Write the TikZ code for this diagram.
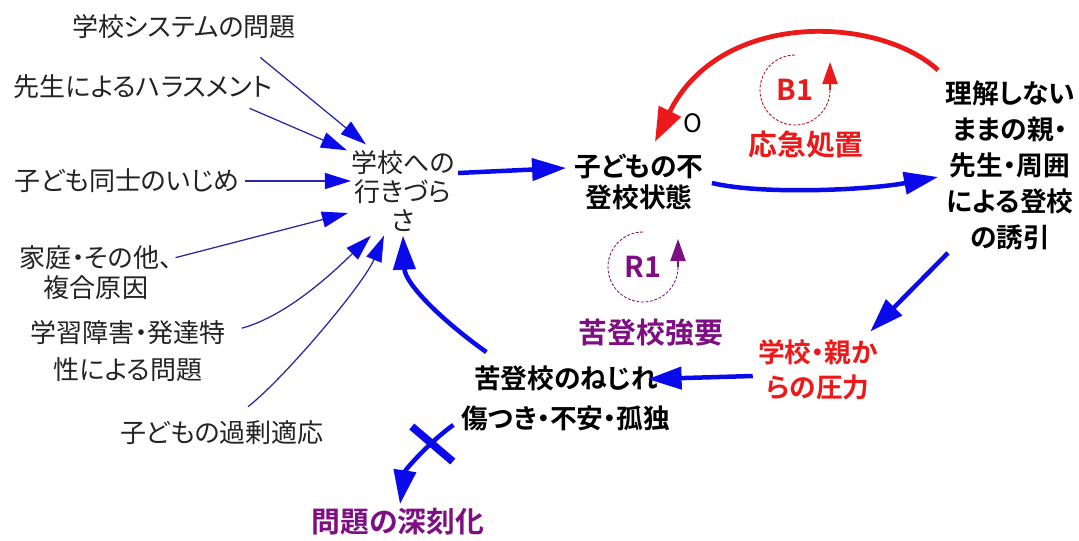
\documentclass[tikz,border=0pt]{standalone}
\usepackage{fontspec}
\setmainfont{Noto Sans CJK JP}[BoldFont={Noto Sans CJK JP Bold}, RawFeature=+palt]
\usetikzlibrary{arrows.meta}
\definecolor{linkblue}{RGB}{10,10,235}
\definecolor{thinnavy}{RGB}{40,40,160}
\definecolor{alarmred}{RGB}{235,25,25}
\definecolor{looppurple}{RGB}{125,15,130}
\definecolor{labelgray}{RGB}{35,35,35}

\begin{document}
\begin{tikzpicture}[x=0.025cm, y=-0.025cm,
  every node/.style={inner sep=0pt, align=center},
  cause/.style={font=\fontsize{18.5}{25}\selectfont, text=labelgray},
  var/.style={font=\fontsize{19}{22}\selectfont\bfseries},
  looplbl/.style={font=\fontsize{20.5}{24}\selectfont\bfseries},
  feed/.style={draw=thinnavy, line width=0.9pt,
    -{Triangle[length=0.65cm, width=0.4cm, color=linkblue]}},
  link/.style={draw=linkblue, line width=3.2pt,
    -{Triangle[length=0.85cm, width=0.55cm]}},
  back/.style={draw=alarmred, line width=3.4pt,
    -{Triangle[length=0.85cm, width=0.6cm]}},
  loopcirc/.style={line width=0.6pt, dash pattern=on 2pt off 1.2pt}]
  \useasboundingbox (0,0) rectangle (1079,540);

  % causes on the left
  \node[cause] (sys) at (184,27) {学校システムの問題};
  \node[cause] (hara) at (143,87) {先生によるハラスメント};
  \node[cause] (ijime) at (127,181) {子ども同士のいじめ};
  \node[cause, font=\fontsize{18.5}{21.5}\selectfont] (katei) at (96,273) {家庭・その他、\\複合原因};
  \node[cause, font=\fontsize{18.5}{26.3}\selectfont] (gaku) at (128,351) {学習障害・発達特\\性による問題};
  \node[cause] (kajo) at (222,433) {子どもの過剰適応};
  \node[cause, font=\fontsize{18.5}{20.5}\selectfont] (diff) at (403,191) {学校への\\行きづら\\さ};

  % loop variables
  \node[var] (futo) at (639,182) {子どもの不\\登校状態};
  \node[var, font=\fontsize{19}{25.6}\selectfont\bfseries] (rikai) at (1010,165)
    {理解しない\\ままの親・\\先生・周囲\\による登校\\の誘引};
  \node[var, text=alarmred, font=\fontsize{19}{24.9}\selectfont\bfseries] (atsu) at (818,370)
    {学校・親か\\らの圧力};
  \node[var, font=\fontsize{19}{28.4}\selectfont\bfseries] (neji) at (566,398)
    {苦登校のねじれ\\傷つき・不安・孤独};
  \node[looplbl, text=looppurple] (shin) at (398,522) {問題の深刻化};
  \node[looplbl, text=alarmred] (okyu) at (806,145) {応急処置};
  \node[looplbl, text=looppurple] (kyoyo) at (651,333) {苦登校強要};
  \node[looplbl, text=alarmred] (bone) at (795,90) {B1};
  \node[looplbl, text=looppurple] (rone) at (643,267) {R1};
  \node[font=\fontsize{18}{20}\selectfont] (sign) at (693,123) {O};

  % loop markers
  \draw[loopcirc, draw=alarmred!75!black] ([shift={(0,-35)}]bone.center)
    arc[start angle=90, end angle=360, radius=0.875cm] coordinate (bend);
  \draw[alarmred, line width=1pt, -{Triangle[length=0.55cm, width=0.38cm]}] (bend) -- ++(0,-28);
  \draw[loopcirc, draw=looppurple] ([shift={(0,-35)}]rone.center)
    arc[start angle=90, end angle=360, radius=0.875cm] coordinate (rend);
  \draw[looppurple, line width=1pt, -{Triangle[length=0.55cm, width=0.38cm]}] (rend) -- ++(0,-28);

  % thin feeders
  \draw[feed] ([shift={(-36,18)}]sys.south east) -- ([shift={(15,-6)}]diff.north west);
  \draw[feed] ([shift={(-23,9)}]hara.south east) -- ([shift={(-4,0)}]diff.north west);
  \draw[feed] ([shift={(5,0)}]ijime.east) -- (ijime.east -| diff.west);
  \draw[feed] ([shift={(3,12)}]katei.north east) -- ([shift={(-3,22)}]diff.west);
  \draw[feed] ([shift={(16,8)}]gaku.north east) .. controls +(48,-13) and +(-32,31) .. ([shift={(20,4)}]diff.south west);
  \draw[feed] ([shift={(26,-14)}]kajo.north) .. controls +(37,-29) and +(-20,48) .. ([shift={(33,4)}]diff.south west);

  % main links
  \draw[link] ([shift={(3,-18)}]diff.east) -- ([shift={(-8,-14)}]futo.west);
  \draw[link] ([shift={(8,1)}]futo.east) .. controls +(50,12) and +(-70,13) .. ([shift={(-7,12)}]rikai.west);
  \draw[link] ([shift={(3,3)}]rikai.south west) -- ([shift={(-8,-8)}]atsu.north east);
  \draw[link] ([shift={(-5,6)}]atsu.west) -- ([shift={(-23,14)}]neji.north east);
  \draw[link] ([shift={(25,-13)}]neji.north west) .. controls +(-45,-32) and +(2,48) .. ([shift={(0,4)}]diff.south);
  \draw[back] ([shift={(-7,-10)}]rikai.north west) .. controls +(-60,-55) and +(65,-132) .. ([shift={(16,-12)}]futo.north);
  \draw[link] ([shift={(-8,-6)}]neji.south west) .. controls +(-25,18) and +(5,-34) .. ([shift={(2,-4)}]shin.north)
    coordinate[pos=0.3] (cut);
  \draw[linkblue, line width=5.5pt] ([shift={(-20,-17)}]cut) -- ([shift={(21,18)}]cut);
\end{tikzpicture}
\end{document}
